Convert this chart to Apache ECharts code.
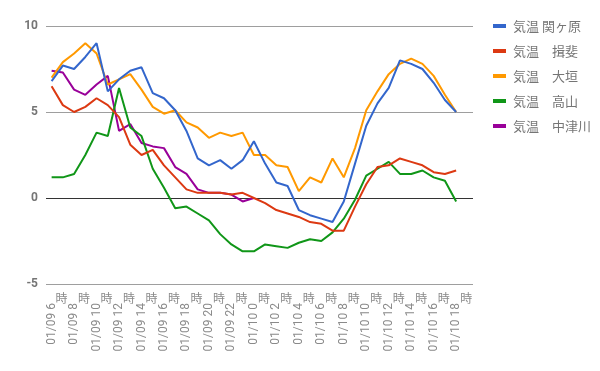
<!DOCTYPE html>
<html><head><meta charset="utf-8">
<script src="https://cdn.jsdelivr.net/npm/echarts@6/dist/echarts.min.js"></script>
<style>html,body{margin:0;padding:0;background:#fff}#c{width:600px;height:371px}</style>
</head><body><div id="c"></div>
<script>
const categories = ['01/09 6','01/09 7','01/09 8','01/09 9','01/09 10','01/09 11','01/09 12','01/09 13','01/09 14','01/09 15','01/09 16','01/09 17','01/09 18','01/09 19','01/09 20','01/09 21','01/09 22','01/09 23','01/10 0','01/10 1','01/10 2','01/10 3','01/10 4','01/10 5','01/10 6','01/10 7','01/10 8','01/10 9','01/10 10','01/10 11','01/10 12','01/10 13','01/10 14','01/10 15','01/10 16','01/10 17','01/10 18','01/10 19'];
const hourUnit = '時';
const seriesNames = ['気温 関ヶ原','気温　揖斐','気温　大垣','気温　高山','気温　中津川'];
const sekigahara = [6.8,7.7,7.5,8.2,9.0,6.2,6.9,7.4,7.6,6.1,5.8,5.1,3.9,2.3,1.9,2.2,1.7,2.2,3.3,2.0,0.9,0.7,-0.7,-1.0,-1.2,-1.4,-0.2,2.0,4.2,5.5,6.4,8.0,7.8,7.5,6.7,5.7,5.0];
const ibi = [6.5,5.4,5.0,5.3,5.8,5.4,4.7,3.1,2.5,2.8,1.9,1.2,0.5,0.3,0.3,0.3,0.2,0.3,0.0,-0.3,-0.7,-0.9,-1.1,-1.4,-1.5,-1.9,-1.9,-0.5,0.8,1.8,1.9,2.3,2.1,1.9,1.5,1.4,1.6];
const ogaki = [7.0,7.9,8.4,9.0,8.4,6.6,6.9,7.2,6.3,5.3,4.9,5.1,4.4,4.1,3.5,3.8,3.6,3.8,2.5,2.5,1.9,1.8,0.4,1.2,0.9,2.3,1.2,2.9,5.1,6.2,7.2,7.8,8.1,7.8,7.1,6.0,5.0];
const takayama = [1.2,1.2,1.4,2.5,3.8,3.6,6.4,4.1,3.6,1.7,0.6,-0.6,-0.5,-0.9,-1.3,-2.1,-2.7,-3.1,-3.1,-2.7,-2.8,-2.9,-2.6,-2.4,-2.5,-2.0,-1.2,-0.1,1.3,1.7,2.1,1.4,1.4,1.6,1.2,1.0,-0.2];
const nakatsugawa = [7.4,7.3,6.3,6.0,6.6,7.1,3.9,4.3,3.2,3.0,2.9,1.8,1.4,0.5,0.3,0.3,0.2,-0.2,0.0];
const yMin = -5, yMax = 10, yStep = 5;
const colors = ['#3366cc','#dc3912','#ff9900','#109618','#990099'];
const allData = [sekigahara, ibi, ogaki, takayama, nakatsugawa];

const chart = echarts.init(document.getElementById('c'));
const series = allData.map((d, i) => {
  const s = {
    name: seriesNames[i], type: 'line', data: d, xAxisIndex: 0,
    symbol: 'none', lineStyle: {width: 2, color: colors[i]}, itemStyle: {color: colors[i]},
    z: 10 - i, animation: false
  };
  if (i === 0) {
    s.markLine = {silent: true, symbol: 'none', label: {show: false},
      lineStyle: {color: '#333', type: 'solid', width: 1}, data: [{yAxis: 0}], animation: false};
  }
  return s;
});
chart.setOption({
  animation: false,
  color: colors,
  grid: {left: 46, right: 127, top: 26, bottom: 87},
  legend: {
    orient: 'vertical', left: 493, top: 18, padding: 0, icon: 'rect', itemWidth: 13, itemHeight: 4,
    itemGap: 9, data: seriesNames,
    textStyle: {fontFamily: 'Noto Sans CJK JP', fontSize: 13, color: '#757575', lineHeight: 16, padding: [0, 0, 0, 2]}
  },
  xAxis: [{
    type: 'category', data: categories, boundaryGap: true,
    axisLine: {show: false}, axisTick: {show: false}, splitLine: {show: false},
    axisLabel: {interval: 1, rotate: 90, margin: 19, fontFamily: 'Roboto', fontSize: 12, color: '#8a8a8a'}
  }, {
    type: 'category', data: categories, boundaryGap: true, position: 'bottom',
    axisLine: {show: false}, axisTick: {show: false}, splitLine: {show: false},
    axisLabel: {interval: 1, margin: 8, fontFamily: 'Noto Sans CJK JP', fontSize: 12, color: '#8a8a8a',
      padding: [0, 0, 0, 20], formatter: () => hourUnit}
  }],
  yAxis: {
    type: 'value', min: yMin, max: yMax, interval: yStep,
    axisLine: {show: false}, axisTick: {show: false},
    splitLine: {lineStyle: {color: '#9e9e9e', width: 1}},
    axisLabel: {margin: 8, fontFamily: 'Roboto', fontSize: 12, fontWeight: 'bold', color: '#757575'}
  },
  series: series
});
</script></body></html>
